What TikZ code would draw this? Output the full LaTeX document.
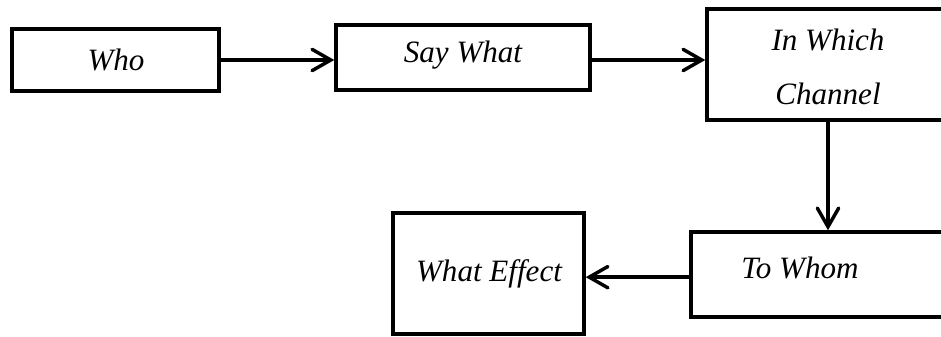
\documentclass[tikz,border=0pt]{standalone}
\usepackage{fontspec}
\setmainfont{Liberation Serif}
\usetikzlibrary{arrows.meta,fit}
\begin{document}
\begin{tikzpicture}[x=0.75pt,y=-0.75pt,
  box/.style={draw=black,line width=2.6pt,inner sep=0pt,rectangle},
  lbl/.style={font=\fontsize{23.3}{41}\selectfont\itshape,inner sep=0pt,align=center},
  conn/.style={line width=2.6pt,-{Straight Barb[length=14pt,width=16pt,line cap=round]}}]
\useasboundingbox[fill=white] (0,0) rectangle (941,336);
\coordinate (c1) at (12,29); \coordinate (c2) at (219,91);
\node[box,fit=(c1)(c2)] (who) {};
\coordinate (c3) at (336,25); \coordinate (c4) at (590,90);
\node[box,fit=(c3)(c4)] (say) {};
\coordinate (c5) at (707,9); \coordinate (c6) at (949,120);
\node[box,fit=(c5)(c6)] (chan) {};
\coordinate (c7) at (691,232); \coordinate (c8) at (970,317);
\node[box,fit=(c7)(c8)] (tw) {};
\coordinate (c9) at (393,213); \coordinate (c10) at (584,334);
\node[box,fit=(c9)(c10)] (we) {};
\node[lbl] (twho) at (116,60) {Who};
\node[lbl] (tsay) at (463,55) {Say What};
\node[lbl] (tchan) at (828,67) {In Which\\Channel};
\node[lbl] (ttw) at (800,268) {To Whom};
\node[lbl] (twe) at (489,274) {What Effect};
\draw[conn] (who.east) -- (who.east -| say.west);
\draw[conn] (say.east |- who.east) -- (chan.west |- who.east);
\draw[conn] (chan.south) -- (chan.south |- tw.north);
\draw[conn] ([yshift=-2pt]tw.west) -- ([yshift=-2pt]tw.west -| we.east);
\end{tikzpicture}
\end{document}
